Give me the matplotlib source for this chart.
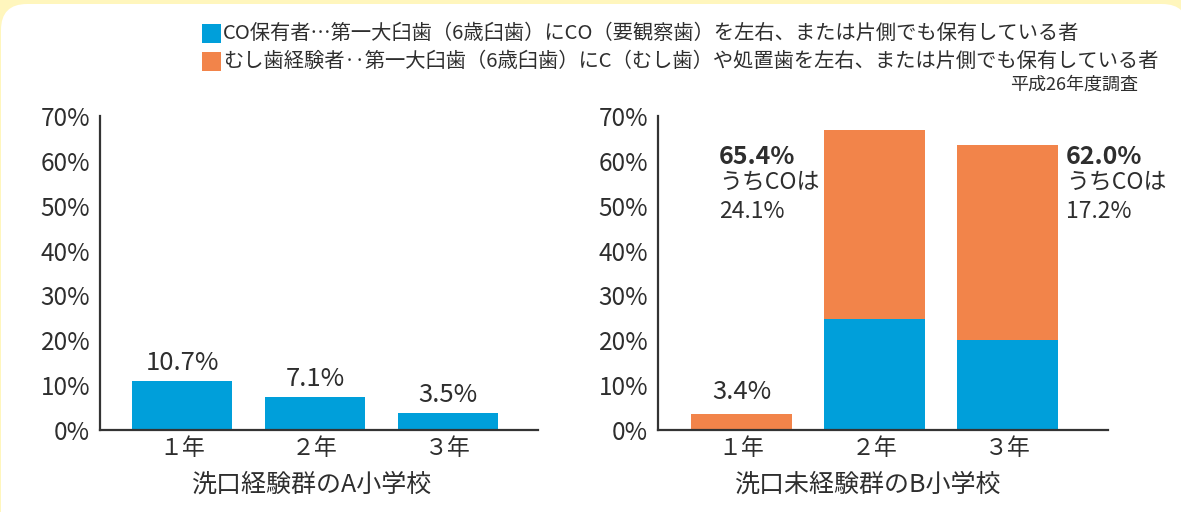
import matplotlib
matplotlib.use("Agg")
import matplotlib.pyplot as plt
from matplotlib.patches import FancyBboxPatch, Rectangle
from matplotlib.transforms import IdentityTransform

plt.rcParams['font.family'] = ['Noto Sans CJK JP', 'DejaVu Sans']

# data
grades = ['１年', '２年', '３年']
a_co = [11.0, 7.4, 3.7]              # 洗口経験群 A: CO保有者
a_labels = ['10.7%', '7.1%', '3.5%']
b_co = [0.0, 24.7, 20.1]             # 洗口未経験群 B: CO part
b_caries = [3.5, 42.2, 43.4]         # むし歯経験者 part on top
b_labels = ['3.4%', '65.4%', '62.0%']
b_co_share = ['', '24.1%', '17.2%']
yticks = [0, 10, 20, 30, 40, 50, 60, 70]

legend_lines = [
    'CO保有者…第一大臼歯（6歳臼歯）にCO（要観察歯）を左右、または片側でも保有している者',
    'むし歯経験者‥第一大臼歯（6歳臼歯）にC（むし歯）や処置歯を左右、または片側でも保有している者',
]
note = '平成26年度調査'
school_a = '洗口経験群のA小学校'
school_b = '洗口未経験群のB小学校'

blue = '#009fda'
orange = '#f2844a'
ink = '#2e2e2e'
W, H = 1181, 512

fig = plt.figure(figsize=(W / 100, H / 100), dpi=100)
fig.patch.set_facecolor('#fff6bd')
panel = FancyBboxPatch((1, -40), 1187, 548, boxstyle='round,pad=0,rounding_size=26',
                       transform=IdentityTransform(), facecolor='white', edgecolor='none',
                       zorder=-5)
fig.patches.append(panel)


def px(x0, y0, x1, y1):
    # pixel box (top-left origin) -> figure fractions
    return [x0 / W, 1 - y1 / H, (x1 - x0) / W, (y1 - y0) / H]


def style(ax, xl):
    ax.set_xlim(*xl)
    ax.set_ylim(0, 70)
    ax.set_yticks(yticks)
    ax.set_yticklabels([f'{v}%' for v in yticks], fontsize=17.5, color=ink)
    ax.set_xticks(range(len(grades)))
    ax.set_xticklabels(grades, fontsize=16.5, color=ink)
    ax.tick_params(axis='y', length=0, pad=7)
    ax.tick_params(axis='x', length=0, pad=5)
    for s in ['top', 'right']:
        ax.spines[s].set_visible(False)
    for s in ['left', 'bottom']:
        ax.spines[s].set_color('#333333')
        ax.spines[s].set_linewidth(1.6)
    ax.set_facecolor('none')


xs = range(len(grades))

# A school
ax1 = fig.add_axes(px(100, 116, 538, 430))
ax1.bar(xs, a_co, width=0.752, color=blue)
style(ax1, (-0.617, 2.677))
for x, v, t in zip(xs, a_co, a_labels):
    ax1.annotate(t, (x, v), xytext=(0, 13), textcoords='offset points',
                 ha='center', va='center', fontsize=18.5, color=ink)

# B school
ax2 = fig.add_axes(px(658, 116, 1108, 430))
ax2.bar(xs, b_co, width=0.76, color=blue)
ax2.bar(xs, b_caries, width=0.76, bottom=b_co, color=orange)
style(ax2, (-0.628, 2.756))
ax2.annotate(b_labels[0], (0, b_co[0] + b_caries[0]), xytext=(0, 16),
             textcoords='offset points', ha='center', va='center',
             fontsize=18.5, color=ink)
for x0, i in [(-0.17, 1), (2.44, 2)]:
    ax2.text(x0, 60.9, b_labels[i], fontsize=18, fontweight='bold', color=ink,
             ha='left', va='center')
    ax2.text(x0, 55.3, 'うちCOは', fontsize=16.5, color=ink, ha='left', va='center')
    ax2.text(x0, 48.8, b_co_share[i], fontsize=16.5, color=ink, ha='left', va='center')

fig.text(311 / W, 1 - 485 / H, school_a, fontsize=18, color=ink, ha='center', va='center')
fig.text(867 / W, 1 - 485 / H, school_b, fontsize=18, color=ink, ha='center', va='center')

# legend
for yc, col, line in [(33, blue, legend_lines[0]), (61, orange, legend_lines[1])]:
    fig.patches.append(Rectangle((202 / W, 1 - (yc + 9.5) / H), 19 / W, 19 / H,
                                 transform=fig.transFigure, facecolor=col, edgecolor='none'))
    fig.text(223 / W, 1 - yc / H, line, fontsize=14.6, color=ink, ha='left', va='center')
fig.text(1138 / W, 1 - 85 / H, note, fontsize=13, color=ink, ha='right', va='center')

fig.savefig('out.png', dpi=100, facecolor=fig.get_facecolor())
